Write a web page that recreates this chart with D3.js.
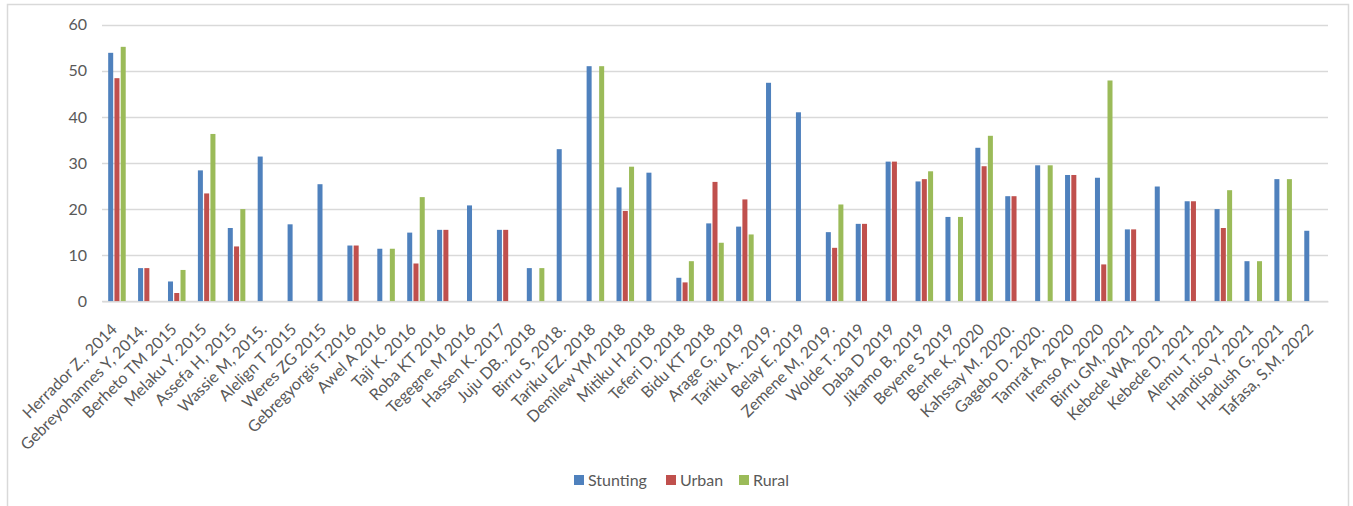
<!DOCTYPE html>
<html>
<head>
<meta charset="utf-8">
<script src="https://cdn.jsdelivr.net/npm/d3@7"></script>
<style>
  html, body { margin: 0; padding: 0; background: #fff; }
  svg { display: block; font-family: Lato, "Liberation Sans", sans-serif; }
</style>
</head>
<body>
<svg id="chart" width="1353" height="506"></svg>
<script>
const categories = [
  "Herrador Z., 2014", "Gebreyohannes Y, 2014.", "Berheto TM 2015", "Melaku Y. 2015",
  "Assefa  H, 2015", "Wassie M, 2015.", "Alelign T 2015", "Weres ZG 2015",
  "Gebregyorgis T.2016", "Awel A 2016", "Taji K. 2016", "Roba KT 2016",
  "Tegegne M 2016", "Hassen K. 2017", "Juju DB., 2018", "Birru S, 2018.",
  "Tariku EZ. 2018", "Demilew YM 2018", "Mitiku H 2018", "Teferi D, 2018",
  "Bidu KT 2018", "Arage G, 2019", "Tariku A.. 2019.", "Belay E, 2019",
  "Zemene M, 2019.", "Wolde T. 2019", "Daba D 2019", "Jikamo B, 2019",
  "Beyene S 2019", "Berhe K, 2020", "Kahssay M. 2020.", "Gagebo D. 2020.",
  "Tamrat A, 2020", "Irenso A, 2020", "Birru GM, 2021", "Kebede WA, 2021",
  "Kebede D, 2021", "Alemu T, 2021", "Handiso Y, 2021", "Hadush G, 2021",
  "Tafasa, S.M. 2022"
];
const stunting = [53.9, 7.2, 4.3, 28.4, 15.9, 31.4, 16.7, 25.4, 12.1, 11.4, 14.9, 15.5,
  20.8, 15.5, 7.2, 33.0, 51.0, 24.7, 27.9, 5.1, 16.9, 16.2, 47.4, 41.0,
  15.0, 16.8, 30.3, 26.0, 18.3, 33.3, 22.8, 29.5, 27.4, 26.8, 15.6, 24.9,
  21.7, 20.0, 8.7, 26.5, 15.3];
const urban = [48.4, 7.2, 1.8, 23.4, 11.9, null, null, null, 12.1, null, 8.2, 15.5,
  null, 15.5, null, null, null, 19.6, null, 4.1, 25.9, 22.1, null, null,
  11.6, 16.8, 30.3, 26.5, null, 29.3, 22.8, null, 27.4, 8.0, 15.6, null,
  21.7, 15.9, null, null, null];
const rural = [55.2, null, 6.8, 36.3, 20.0, null, null, null, null, 11.4, 22.6, null,
  null, null, 7.2, null, 51.0, 29.2, null, 8.7, 12.7, 14.5, null, null,
  21.0, null, null, 28.2, 18.3, 35.9, null, 29.5, null, 47.9, null, null,
  null, 24.1, 8.7, 26.5, null];
const seriesNames = ["Stunting", "Urban", "Rural"];
const seriesColors = ["#4F81BD", "#C0504D", "#9BBB59"];
const yTicks = [0, 10, 20, 30, 40, 50, 60];

const svg = d3.select("#chart");

// outer chart border
svg.append("rect")
  .attr("x", 7.5).attr("y", 4.5).attr("width", 1341).attr("height", 520)
  .attr("fill", "none").attr("stroke", "#d9d9d9").attr("stroke-width", 1.5);

const x = d3.scaleBand().domain(categories).range([102, 1328]).paddingInner(0).paddingOuter(0);
const y = d3.scaleLinear().domain([0, 60]).range([301.3, 24.7]);
const xs = d3.scaleBand().domain(seriesNames).range([-9.4, 9.4]).paddingInner(0.2).paddingOuter(0.1);

// gridlines
svg.append("g").selectAll("line").data(yTicks).join("line")
  .attr("x1", 102).attr("x2", 1328)
  .attr("y1", d => Math.round(y(d)) + 0.5).attr("y2", d => Math.round(y(d)) + 0.5)
  .attr("stroke", "#d9d9d9").attr("stroke-width", 1.3);

// y axis labels
const yAxis = d3.axisLeft(y).tickValues(yTicks).tickSize(0).tickPadding(0);
const yg = svg.append("g").attr("transform", "translate(87,0)").call(yAxis);
yg.select(".domain").remove();
yg.selectAll("text").attr("fill", "#595959").attr("font-size", 16)
  .attr("font-family", "Lato, 'Liberation Sans', sans-serif");

// bars
const seriesData = [stunting, urban, rural];
seriesData.forEach((vals, si) => {
  svg.append("g").selectAll("rect")
    .data(vals.map((v, i) => ({ cat: categories[i], v })).filter(d => d.v !== null))
    .join("rect")
    .attr("x", d => x(d.cat) + x.bandwidth() / 2 + xs(seriesNames[si]))
    .attr("width", xs.bandwidth())
    .attr("y", d => y(d.v))
    .attr("height", d => y(0) - y(d.v))
    .attr("fill", seriesColors[si]);
});

// x axis labels
const xAxis = d3.axisBottom(x).tickSize(0).tickPadding(0);
const xg = svg.append("g").attr("transform", "translate(0,301.3)").call(xAxis);
xg.select(".domain").attr("stroke", "#d9d9d9").attr("stroke-width", 1.3);
xg.selectAll(".tick text")
  .attr("fill", "#595959").attr("font-size", 16)
  .attr("font-family", "Lato, 'Liberation Sans', sans-serif")
  .attr("text-anchor", "end")
  .attr("y", 0).attr("dy", "0.72em")
  .attr("transform", "translate(-7,21) rotate(-45)");

// legend
const legendX = [574, 666, 739];
const lg = svg.append("g");
seriesNames.forEach((n, i) => {
  lg.append("rect").attr("x", legendX[i]).attr("y", 475).attr("width", 10).attr("height", 10)
    .attr("fill", seriesColors[i]);
  lg.append("text").attr("x", legendX[i] + 14).attr("y", 480).attr("dy", "0.35em")
    .attr("fill", "#595959").attr("font-size", 16).text(n);
});
</script>
</body>
</html>
